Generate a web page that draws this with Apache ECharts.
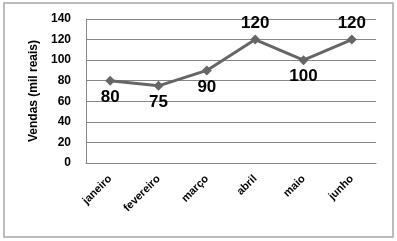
<!DOCTYPE html>
<html><head><meta charset="utf-8">
<script src="https://cdn.jsdelivr.net/npm/echarts@6/dist/echarts.min.js"></script>
<style>html,body{margin:0;padding:0;background:#fff}#c{width:397px;height:241px}</style>
</head><body><div id="c"></div>
<script>
const categories = ['janeiro','fevereiro','março','abril','maio','junho'];
const vendas = [80, 75, 90, 120, 100, 120];
const labelPos = ['bottom','bottom','bottom','top','bottom','top'];
const yTicks = {min: 0, max: 140, interval: 20};

const chart = echarts.init(document.getElementById('c'), null, {renderer: 'canvas'});
chart.setOption({
  animation: false,
  backgroundColor: '#fff',
  graphic: [{type: 'rect', shape: {x: 4, y: 3, width: 389, height: 234}, style: {fill: 'none', stroke: '#a6a6a6', lineWidth: 1.5}}],
  grid: {left: 86, right: 21, top: 19, bottom: 78},
  xAxis: {
    type: 'category', data: categories, boundaryGap: true,
    axisLine: {lineStyle: {color: '#868686', width: 1}},
    axisTick: {show: false},
    axisLabel: {rotate: 45, fontFamily: 'Liberation Sans', fontWeight: 'bold', fontSize: 11, color: '#000', margin: 14}
  },
  yAxis: {
    type: 'value', min: yTicks.min, max: yTicks.max, interval: yTicks.interval,
    name: 'Vendas (mil reais)', nameLocation: 'middle', nameGap: 45,
    nameTextStyle: {fontFamily: 'Liberation Sans', fontWeight: 'bold', fontSize: 12, color: '#000'},
    axisLine: {show: true, lineStyle: {color: '#868686'}},
    axisTick: {show: false},
    splitLine: {lineStyle: {color: '#868686', width: 1}},
    axisLabel: {fontFamily: 'Liberation Sans', fontWeight: 'bold', fontSize: 12, color: '#000', margin: 15}
  },
  series: [{
    type: 'line', data: vendas.map((v, i) => ({value: v, label: {position: labelPos[i]}})),
    symbol: 'diamond', symbolSize: 10,
    lineStyle: {color: '#666', width: 3},
    itemStyle: {color: '#666'},
    label: {show: true, fontFamily: 'Liberation Sans', fontWeight: 'bold', fontSize: 17, color: '#000', distance: 3}
  }]
});
</script></body></html>
